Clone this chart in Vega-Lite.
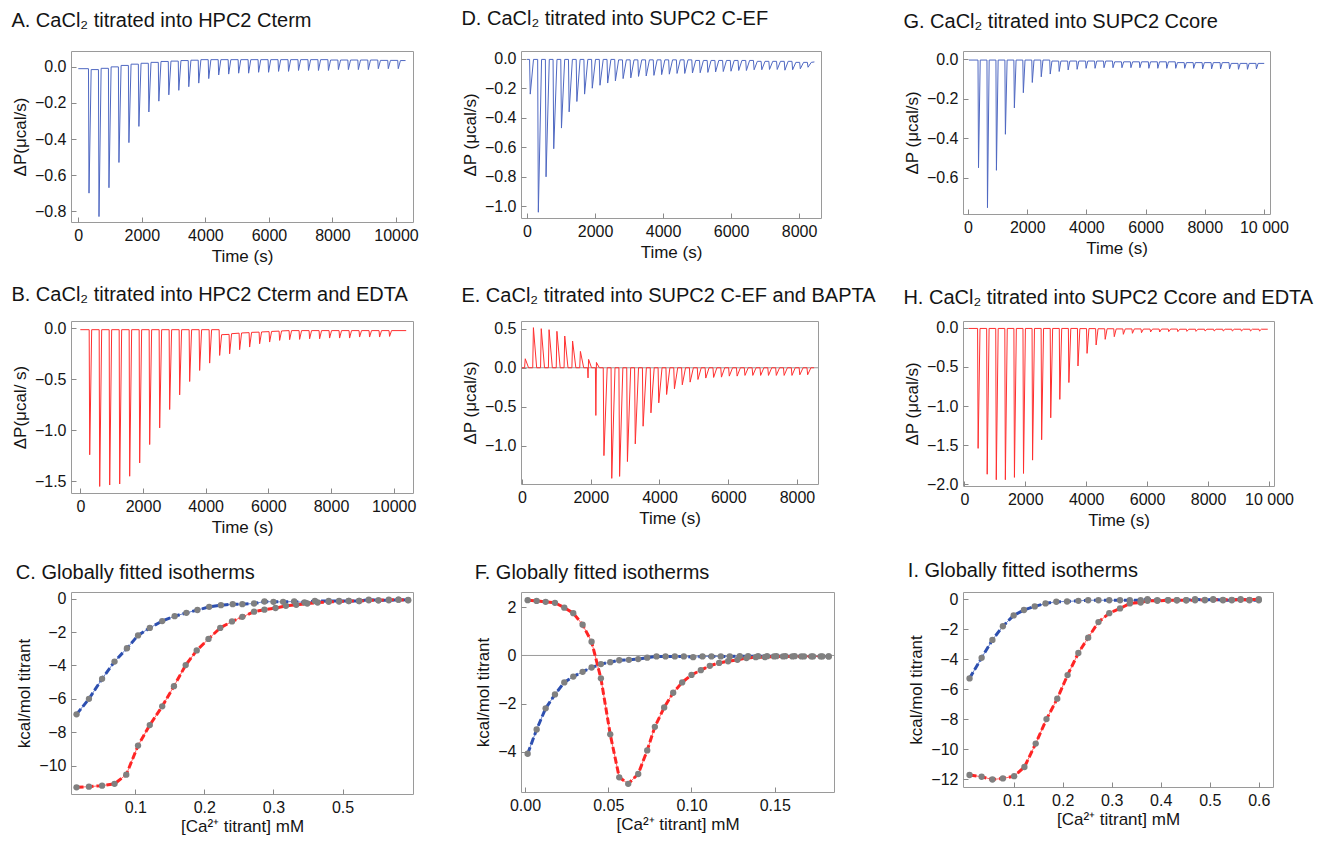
{
"$schema": "https://vega.github.io/schema/vega-lite/v6.json",
"background": "white",
"padding": {"left": 10, "top": 8, "right": 5, "bottom": 0},
"config": {
  "font": "Liberation Sans",
  "view": {"stroke": null},
  "axis": {"domain": false, "grid": false, "tickColor": "#8a8a8a", "tickSize": -5, "labelPadding": 10, "labelFontSize": 16, "titleFontSize": 17, "titleFontWeight": "normal", "labelColor": "#141414", "titleColor": "#141414", "labelFont": "Liberation Sans", "titleFont": "Liberation Sans", "titlePadding": 5, "labelFlush": false, "labelOverlap": false},
  "title": {"anchor": "start", "frame": "bounds", "fontSize": 20, "fontWeight": "normal", "font": "Liberation Sans", "color": "#141414"}
},
"columns": 5,
"spacing": {"row": 99, "column": 20},
"bounds": "flush",
"align": "each",
"concat": [
{
 "width": 342, "height": 171, "view": {"stroke": "#9a9a9a"},
 "title": {"text": "A. CaCl₂ titrated into HPC2 Cterm", "offset": 20},
 "data": {"values": [
  {"t":0,"p":-0.01},{"t":320,"p":-0.01},{"t":337,"p":-0.70},{"t":405,"p":-0.015},
  {"t":634,"p":-0.015},{"t":651,"p":-0.83},{"t":719,"p":-0.008},
  {"t":948,"p":-0.008},{"t":965,"p":-0.67},{"t":1033,"p":0.0},
  {"t":1262,"p":0.0},{"t":1279,"p":-0.53},{"t":1347,"p":0.008},
  {"t":1576,"p":0.008},{"t":1593,"p":-0.42},{"t":1661,"p":0.015},
  {"t":1890,"p":0.015},{"t":1907,"p":-0.33},{"t":1975,"p":0.02},
  {"t":2204,"p":0.02},{"t":2221,"p":-0.25},{"t":2289,"p":0.025},
  {"t":2518,"p":0.025},{"t":2535,"p":-0.19},{"t":2603,"p":0.03},
  {"t":2832,"p":0.03},{"t":2849,"p":-0.155},{"t":2917,"p":0.032},
  {"t":3146,"p":0.032},{"t":3163,"p":-0.13},{"t":3231,"p":0.035},
  {"t":3460,"p":0.035},{"t":3477,"p":-0.11},{"t":3545,"p":0.037},
  {"t":3774,"p":0.037},{"t":3791,"p":-0.09},{"t":3859,"p":0.04},
  {"t":4088,"p":0.04},{"t":4105,"p":-0.065},{"t":4173,"p":0.04},
  {"t":4402,"p":0.04},{"t":4419,"p":-0.045},{"t":4487,"p":0.04},
  {"t":4716,"p":0.04},{"t":4733,"p":-0.04},{"t":4801,"p":0.04},
  {"t":5030,"p":0.04},{"t":5047,"p":-0.035},{"t":5115,"p":0.04},
  {"t":5344,"p":0.04},{"t":5361,"p":-0.035},{"t":5429,"p":0.04},
  {"t":5658,"p":0.04},{"t":5675,"p":-0.03},{"t":5743,"p":0.04},
  {"t":5972,"p":0.04},{"t":5989,"p":-0.03},{"t":6057,"p":0.04},
  {"t":6286,"p":0.04},{"t":6303,"p":-0.025},{"t":6371,"p":0.04},
  {"t":6600,"p":0.04},{"t":6617,"p":-0.025},{"t":6685,"p":0.04},
  {"t":6914,"p":0.04},{"t":6931,"p":-0.02},{"t":6999,"p":0.04},
  {"t":7228,"p":0.04},{"t":7245,"p":-0.02},{"t":7313,"p":0.04},
  {"t":7542,"p":0.04},{"t":7559,"p":-0.02},{"t":7627,"p":0.04},
  {"t":7856,"p":0.04},{"t":7873,"p":-0.02},{"t":7941,"p":0.038},
  {"t":8170,"p":0.038},{"t":8187,"p":-0.015},{"t":8255,"p":0.038},
  {"t":8484,"p":0.038},{"t":8501,"p":-0.015},{"t":8569,"p":0.038},
  {"t":8798,"p":0.038},{"t":8815,"p":-0.015},{"t":8883,"p":0.038},
  {"t":9112,"p":0.038},{"t":9129,"p":-0.015},{"t":9197,"p":0.038},
  {"t":9426,"p":0.038},{"t":9443,"p":-0.01},{"t":9511,"p":0.036},
  {"t":9740,"p":0.036},{"t":9757,"p":-0.01},{"t":9825,"p":0.036},
  {"t":10054,"p":0.036},{"t":10071,"p":-0.01},{"t":10139,"p":0.035},
  {"t":10300,"p":0.035}
 ]},
 "mark": {"type": "line", "color": "#4f68c2", "strokeWidth": 1, "clip": true},
 "encoding": {
  "x": {"field": "t", "type": "quantitative", "scale": {"domain": [-230, 10535], "nice": false, "zero": false}, "axis": {"title": "Time (s)", "values": [0,2000,4000,6000,8000,10000], "format": "d"}},
  "y": {"field": "p", "type": "quantitative", "scale": {"domain": [-0.86, 0.088], "nice": false, "zero": false}, "axis": {"title": "ΔP(μcal/s)", "values": [-0.8,-0.6,-0.4,-0.2,0], "format": ".1f"}}
 }
},
{"width": 68, "height": 10, "data": {"values": []}, "mark": {"type": "point", "opacity": 0}},
{
 "width": 300, "height": 167, "view": {"stroke": "#9a9a9a"},
 "title": {"text": "D. CaCl₂ titrated into SUPC2 C-EF", "offset": 22},
 "data": {"values": [
  {"t":0,"p":-0.005},{"t":74,"p":-0.005},{"t":94,"p":-0.24},{"t":190,"p":-0.005},
  {"t":312,"p":-0.005},{"t":332,"p":-1.04},{"t":427,"p":-0.005},
  {"t":539,"p":-0.005},{"t":559,"p":-0.80},{"t":654,"p":-0.005},
  {"t":765,"p":-0.005},{"t":785,"p":-0.61},{"t":880,"p":-0.005},
  {"t":992,"p":-0.005},{"t":1012,"p":-0.47},{"t":1107,"p":-0.005},
  {"t":1218,"p":-0.005},{"t":1238,"p":-0.36},{"t":1333,"p":-0.005},
  {"t":1445,"p":-0.005},{"t":1465,"p":-0.29},{"t":1560,"p":-0.005},
  {"t":1672,"p":-0.005},{"t":1692,"p":-0.24},{"t":1787,"p":-0.005},
  {"t":1898,"p":-0.005},{"t":1918,"p":-0.20},{"t":2013,"p":-0.005},
  {"t":2125,"p":-0.005},{"t":2145,"p":-0.18},{"t":2240,"p":-0.005},
  {"t":2351,"p":-0.005},{"t":2371,"p":-0.165},{"t":2466,"p":-0.005},
  {"t":2578,"p":-0.005},{"t":2598,"p":-0.15},{"t":2693,"p":-0.008},
  {"t":2805,"p":-0.008},{"t":2825,"p":-0.135},{"t":2920,"p":-0.008},
  {"t":3031,"p":-0.008},{"t":3051,"p":-0.13},{"t":3146,"p":-0.008},
  {"t":3258,"p":-0.008},{"t":3278,"p":-0.12},{"t":3373,"p":-0.008},
  {"t":3484,"p":-0.008},{"t":3504,"p":-0.117},{"t":3599,"p":-0.008},
  {"t":3711,"p":-0.008},{"t":3731,"p":-0.113},{"t":3826,"p":-0.008},
  {"t":3938,"p":-0.008},{"t":3958,"p":-0.108},{"t":4053,"p":-0.008},
  {"t":4164,"p":-0.008},{"t":4184,"p":-0.105},{"t":4279,"p":-0.008},
  {"t":4391,"p":-0.008},{"t":4411,"p":-0.10},{"t":4506,"p":-0.008},
  {"t":4617,"p":-0.008},{"t":4637,"p":-0.10},{"t":4732,"p":-0.008},
  {"t":4844,"p":-0.008},{"t":4864,"p":-0.097},{"t":4959,"p":-0.012},
  {"t":5071,"p":-0.012},{"t":5091,"p":-0.095},{"t":5186,"p":-0.012},
  {"t":5297,"p":-0.012},{"t":5317,"p":-0.093},{"t":5412,"p":-0.012},
  {"t":5524,"p":-0.012},{"t":5544,"p":-0.09},{"t":5639,"p":-0.012},
  {"t":5750,"p":-0.012},{"t":5770,"p":-0.087},{"t":5865,"p":-0.012},
  {"t":5977,"p":-0.012},{"t":5997,"p":-0.085},{"t":6092,"p":-0.012},
  {"t":6204,"p":-0.012},{"t":6224,"p":-0.08},{"t":6319,"p":-0.012},
  {"t":6430,"p":-0.012},{"t":6450,"p":-0.08},{"t":6545,"p":-0.012},
  {"t":6657,"p":-0.012},{"t":6677,"p":-0.075},{"t":6772,"p":-0.018},
  {"t":6883,"p":-0.018},{"t":6903,"p":-0.075},{"t":6998,"p":-0.018},
  {"t":7110,"p":-0.018},{"t":7130,"p":-0.073},{"t":7225,"p":-0.018},
  {"t":7337,"p":-0.018},{"t":7357,"p":-0.073},{"t":7452,"p":-0.018},
  {"t":7563,"p":-0.018},{"t":7583,"p":-0.078},{"t":7678,"p":-0.018},
  {"t":7790,"p":-0.018},{"t":7810,"p":-0.075},{"t":7905,"p":-0.025},
  {"t":8016,"p":-0.025},{"t":8036,"p":-0.068},{"t":8131,"p":-0.025},
  {"t":8243,"p":-0.025},{"t":8263,"p":-0.058},{"t":8358,"p":-0.025},
  {"t":8450,"p":-0.022}
 ]},
 "mark": {"type": "line", "color": "#4f68c2", "strokeWidth": 1, "clip": true},
 "encoding": {
  "x": {"field": "t", "type": "quantitative", "scale": {"domain": [-178, 8644], "nice": false, "zero": false}, "axis": {"title": "Time (s)", "values": [0,2000,4000,6000,8000], "format": "d"}},
  "y": {"field": "p", "type": "quantitative", "scale": {"domain": [-1.079, 0.052], "nice": false, "zero": false}, "axis": {"title": "ΔP (μcal/s)", "values": [-1.0,-0.8,-0.6,-0.4,-0.2,0], "format": ".1f"}}
 }
},
{"width": 89, "height": 10, "data": {"values": []}, "mark": {"type": "point", "opacity": 0}},
{
 "width": 307, "height": 163, "view": {"stroke": "#9a9a9a"},
 "title": {"text": "G. CaCl₂ titrated into SUPC2 Ccore", "offset": 19},
 "data": {"values": [
  {"t":30,"p":-0.003},
  {"t":336,"p":-0.003},{"t":353,"p":-0.55},{"t":411,"p":-0.003},
  {"t":639,"p":-0.003},{"t":656,"p":-0.753},{"t":714,"p":-0.003},
  {"t":942,"p":-0.003},{"t":959,"p":-0.563},{"t":1017,"p":-0.003},
  {"t":1245,"p":-0.003},{"t":1262,"p":-0.38},{"t":1320,"p":-0.003},
  {"t":1548,"p":-0.003},{"t":1565,"p":-0.246},{"t":1623,"p":-0.003},
  {"t":1851,"p":-0.003},{"t":1868,"p":-0.169},{"t":1926,"p":-0.003},
  {"t":2154,"p":-0.003},{"t":2171,"p":-0.117},{"t":2229,"p":-0.003},
  {"t":2457,"p":-0.003},{"t":2474,"p":-0.088},{"t":2532,"p":-0.003},
  {"t":2760,"p":-0.003},{"t":2777,"p":-0.074},{"t":2835,"p":-0.008},
  {"t":3063,"p":-0.008},{"t":3080,"p":-0.061},{"t":3138,"p":-0.008},
  {"t":3366,"p":-0.008},{"t":3383,"p":-0.053},{"t":3441,"p":-0.008},
  {"t":3669,"p":-0.008},{"t":3686,"p":-0.05},{"t":3744,"p":-0.008},
  {"t":3972,"p":-0.008},{"t":3989,"p":-0.045},{"t":4047,"p":-0.008},
  {"t":4275,"p":-0.008},{"t":4292,"p":-0.045},{"t":4350,"p":-0.008},
  {"t":4578,"p":-0.008},{"t":4595,"p":-0.042},{"t":4653,"p":-0.008},
  {"t":4881,"p":-0.008},{"t":4898,"p":-0.042},{"t":4956,"p":-0.012},
  {"t":5184,"p":-0.012},{"t":5201,"p":-0.042},{"t":5259,"p":-0.012},
  {"t":5487,"p":-0.012},{"t":5504,"p":-0.042},{"t":5562,"p":-0.012},
  {"t":5790,"p":-0.012},{"t":5807,"p":-0.042},{"t":5865,"p":-0.012},
  {"t":6093,"p":-0.012},{"t":6110,"p":-0.045},{"t":6168,"p":-0.012},
  {"t":6396,"p":-0.012},{"t":6413,"p":-0.045},{"t":6471,"p":-0.012},
  {"t":6699,"p":-0.012},{"t":6716,"p":-0.045},{"t":6774,"p":-0.012},
  {"t":7002,"p":-0.012},{"t":7019,"p":-0.045},{"t":7077,"p":-0.016},
  {"t":7305,"p":-0.016},{"t":7322,"p":-0.045},{"t":7380,"p":-0.016},
  {"t":7608,"p":-0.016},{"t":7625,"p":-0.045},{"t":7683,"p":-0.016},
  {"t":7911,"p":-0.016},{"t":7928,"p":-0.048},{"t":7986,"p":-0.016},
  {"t":8214,"p":-0.016},{"t":8231,"p":-0.048},{"t":8289,"p":-0.016},
  {"t":8517,"p":-0.016},{"t":8534,"p":-0.048},{"t":8592,"p":-0.016},
  {"t":8820,"p":-0.016},{"t":8837,"p":-0.048},{"t":8895,"p":-0.02},
  {"t":9123,"p":-0.02},{"t":9140,"p":-0.05},{"t":9198,"p":-0.02},
  {"t":9426,"p":-0.02},{"t":9443,"p":-0.05},{"t":9501,"p":-0.02},
  {"t":9729,"p":-0.02},{"t":9746,"p":-0.048},{"t":9804,"p":-0.02},
  {"t":10010,"p":-0.02}
 ]},
 "mark": {"type": "line", "color": "#4f68c2", "strokeWidth": 1, "clip": true},
 "encoding": {
  "x": {"field": "t", "type": "quantitative", "scale": {"domain": [-171, 10205], "nice": false, "zero": false}, "axis": {"title": "Time (s)", "values": [0,2000,4000,6000,8000,10000], "labelExpr": "datum.value == 10000 ? '10 000' : format(datum.value, 'd')"}},
  "y": {"field": "p", "type": "quantitative", "scale": {"domain": [-0.785, 0.043], "nice": false, "zero": false}, "axis": {"title": "ΔP (μcal/s)", "values": [-0.6,-0.4,-0.2,0], "format": ".1f"}}
 }
},
{
 "width": 342, "height": 172, "view": {"stroke": "#9a9a9a"},
 "title": {"text": "B. CaCl₂ titrated into HPC2 Cterm and EDTA", "offset": 15},
 "data": {"values": [
  {"t":0,"p":-0.016},
  {"t":282,"p":-0.016},{"t":299,"p":-1.24},{"t":362,"p":-0.016},
  {"t":601,"p":-0.016},{"t":618,"p":-1.55},{"t":681,"p":-0.016},
  {"t":920,"p":-0.016},{"t":937,"p":-1.536},{"t":1000,"p":-0.016},
  {"t":1239,"p":-0.016},{"t":1256,"p":-1.526},{"t":1319,"p":-0.016},
  {"t":1558,"p":-0.016},{"t":1575,"p":-1.45},{"t":1638,"p":-0.016},
  {"t":1877,"p":-0.016},{"t":1894,"p":-1.32},{"t":1957,"p":-0.016},
  {"t":2196,"p":-0.016},{"t":2213,"p":-1.14},{"t":2276,"p":-0.016},
  {"t":2515,"p":-0.016},{"t":2532,"p":-0.977},{"t":2595,"p":-0.016},
  {"t":2834,"p":-0.016},{"t":2851,"p":-0.797},{"t":2914,"p":-0.016},
  {"t":3153,"p":-0.016},{"t":3170,"p":-0.654},{"t":3233,"p":-0.016},
  {"t":3472,"p":-0.016},{"t":3489,"p":-0.523},{"t":3552,"p":-0.016},
  {"t":3791,"p":-0.016},{"t":3808,"p":-0.415},{"t":3871,"p":-0.016},
  {"t":4110,"p":-0.016},{"t":4127,"p":-0.343},{"t":4190,"p":-0.016},
  {"t":4429,"p":-0.016},{"t":4446,"p":-0.268},{"t":4509,"p":-0.065},
  {"t":4748,"p":-0.062},{"t":4765,"p":-0.252},{"t":4828,"p":-0.055},
  {"t":5067,"p":-0.05},{"t":5084,"p":-0.212},{"t":5147,"p":-0.048},
  {"t":5386,"p":-0.045},{"t":5403,"p":-0.186},{"t":5466,"p":-0.042},
  {"t":5705,"p":-0.04},{"t":5722,"p":-0.154},{"t":5785,"p":-0.038},
  {"t":6024,"p":-0.035},{"t":6041,"p":-0.137},{"t":6104,"p":-0.033},
  {"t":6343,"p":-0.03},{"t":6360,"p":-0.121},{"t":6423,"p":-0.028},
  {"t":6662,"p":-0.025},{"t":6679,"p":-0.114},{"t":6742,"p":-0.025},
  {"t":6981,"p":-0.025},{"t":6998,"p":-0.111},{"t":7061,"p":-0.025},
  {"t":7300,"p":-0.025},{"t":7317,"p":-0.105},{"t":7380,"p":-0.025},
  {"t":7619,"p":-0.025},{"t":7636,"p":-0.105},{"t":7699,"p":-0.025},
  {"t":7938,"p":-0.025},{"t":7955,"p":-0.098},{"t":8018,"p":-0.025},
  {"t":8257,"p":-0.025},{"t":8274,"p":-0.098},{"t":8337,"p":-0.025},
  {"t":8576,"p":-0.025},{"t":8593,"p":-0.098},{"t":8656,"p":-0.025},
  {"t":8895,"p":-0.025},{"t":8912,"p":-0.088},{"t":8975,"p":-0.025},
  {"t":9214,"p":-0.025},{"t":9231,"p":-0.088},{"t":9294,"p":-0.025},
  {"t":9533,"p":-0.025},{"t":9550,"p":-0.088},{"t":9613,"p":-0.025},
  {"t":9852,"p":-0.025},{"t":9869,"p":-0.082},{"t":9932,"p":-0.025},
  {"t":10400,"p":-0.025}
 ]},
 "mark": {"type": "line", "color": "#ff3030", "strokeWidth": 1, "clip": true},
 "encoding": {
  "x": {"field": "t", "type": "quantitative", "scale": {"domain": [-298, 10617], "nice": false, "zero": false}, "axis": {"title": "Time (s)", "values": [0,2000,4000,6000,8000,10000], "format": "d"}},
  "y": {"field": "p", "type": "quantitative", "scale": {"domain": [-1.614, 0.069], "nice": false, "zero": false}, "axis": {"title": "ΔP(μcal/ s)", "values": [-1.5,-1.0,-0.5,0], "format": ".1f"}}
 }
},
{"width": 68, "height": 10, "data": {"values": []}, "mark": {"type": "point", "opacity": 0}},
{
 "width": 297, "height": 163, "view": {"stroke": "#9a9a9a"},
 "title": {"text": "E. CaCl₂ titrated into SUPC2 C-EF and BAPTA", "offset": 15},
 "layer": [
  {"data": {"values": [{"p": 0}]}, "mark": {"type": "rule", "color": "#9a9a9a", "strokeWidth": 1},
   "encoding": {"y": {"field": "p", "type": "quantitative"}}},
  {"data": {"values": [
  {"t":0,"p":0},{"t":74,"p":0},{"t":94,"p":0.115},{"t":190,"p":0},
  {"t":311,"p":0},{"t":331,"p":0.513},{"t":426,"p":0},
  {"t":539,"p":0},{"t":559,"p":0.50},{"t":654,"p":0},
  {"t":767,"p":0},{"t":787,"p":0.487},{"t":882,"p":0},
  {"t":995,"p":0},{"t":1015,"p":0.466},{"t":1110,"p":0},
  {"t":1223,"p":0},{"t":1243,"p":0.406},{"t":1338,"p":0},
  {"t":1451,"p":0},{"t":1471,"p":0.342},{"t":1566,"p":0},
  {"t":1679,"p":0},{"t":1699,"p":0.209},{"t":1794,"p":0},
  {"t":1907,"p":0},{"t":1920,"p":-0.13},{"t":1937,"p":0.107},{"t":2022,"p":0},
  {"t":2135,"p":0},{"t":2148,"p":-0.61},{"t":2165,"p":0.068},{"t":2250,"p":0},
  {"t":2363,"p":0},{"t":2383,"p":-1.124},{"t":2478,"p":0},
  {"t":2591,"p":0},{"t":2611,"p":-1.415},{"t":2706,"p":0},
  {"t":2819,"p":0},{"t":2839,"p":-1.39},{"t":2934,"p":0},
  {"t":3047,"p":0},{"t":3067,"p":-1.20},{"t":3162,"p":0},
  {"t":3275,"p":0},{"t":3295,"p":-0.974},{"t":3390,"p":0},
  {"t":3503,"p":0},{"t":3523,"p":-0.748},{"t":3618,"p":0},
  {"t":3731,"p":0},{"t":3751,"p":-0.577},{"t":3846,"p":0},
  {"t":3959,"p":0},{"t":3979,"p":-0.449},{"t":4074,"p":0},
  {"t":4187,"p":0},{"t":4207,"p":-0.342},{"t":4302,"p":0},
  {"t":4415,"p":0},{"t":4435,"p":-0.269},{"t":4530,"p":0},
  {"t":4643,"p":0},{"t":4663,"p":-0.218},{"t":4758,"p":0},
  {"t":4871,"p":0},{"t":4891,"p":-0.184},{"t":4986,"p":0},
  {"t":5099,"p":0},{"t":5119,"p":-0.15},{"t":5214,"p":0},
  {"t":5327,"p":0},{"t":5347,"p":-0.132},{"t":5442,"p":0},
  {"t":5555,"p":0},{"t":5575,"p":-0.124},{"t":5670,"p":0},
  {"t":5783,"p":0},{"t":5803,"p":-0.12},{"t":5898,"p":0},
  {"t":6011,"p":0},{"t":6031,"p":-0.107},{"t":6126,"p":0},
  {"t":6239,"p":0},{"t":6259,"p":-0.107},{"t":6354,"p":0},
  {"t":6467,"p":0},{"t":6487,"p":-0.098},{"t":6582,"p":0},
  {"t":6695,"p":0},{"t":6715,"p":-0.098},{"t":6810,"p":0},
  {"t":6923,"p":0},{"t":6943,"p":-0.098},{"t":7038,"p":0},
  {"t":7151,"p":0},{"t":7171,"p":-0.098},{"t":7266,"p":0},
  {"t":7379,"p":0},{"t":7399,"p":-0.098},{"t":7494,"p":0},
  {"t":7607,"p":0},{"t":7627,"p":-0.098},{"t":7722,"p":0},
  {"t":7835,"p":0},{"t":7855,"p":-0.098},{"t":7950,"p":0},
  {"t":8063,"p":0},{"t":8083,"p":-0.09},{"t":8178,"p":0},
  {"t":8291,"p":0},{"t":8311,"p":-0.09},{"t":8406,"p":0},
  {"t":8500,"p":0}
  ]},
  "mark": {"type": "line", "color": "#ff3030", "strokeWidth": 1, "clip": true},
  "encoding": {
   "x": {"field": "t", "type": "quantitative", "scale": {"domain": [-30, 8612], "nice": false, "zero": false}, "axis": {"title": "Time (s)", "values": [0,2000,4000,6000,8000], "format": "d"}},
   "y": {"field": "p", "type": "quantitative", "scale": {"domain": [-1.487, 0.598], "nice": false, "zero": false}, "axis": {"title": "ΔP (μcal/s)", "values": [-1.5,-1.0,-0.5,0,0.5], "format": ".1f"}}
  }}
 ]
},
{"width": 89, "height": 10, "data": {"values": []}, "mark": {"type": "point", "opacity": 0}},
{
 "width": 311, "height": 165, "view": {"stroke": "#9a9a9a"},
 "title": {"text": "H. CaCl₂ titrated into SUPC2 Ccore and EDTA", "offset": 12},
 "data": {"values": [
  {"t":140,"p":-0.01},
  {"t":435,"p":-0.01},{"t":452,"p":-1.54},{"t":515,"p":-0.01},
  {"t":733,"p":-0.01},{"t":750,"p":-1.87},{"t":813,"p":-0.01},
  {"t":1031,"p":-0.01},{"t":1048,"p":-1.94},{"t":1111,"p":-0.01},
  {"t":1329,"p":-0.01},{"t":1346,"p":-1.94},{"t":1409,"p":-0.01},
  {"t":1627,"p":-0.01},{"t":1644,"p":-1.91},{"t":1707,"p":-0.01},
  {"t":1925,"p":-0.01},{"t":1942,"p":-1.86},{"t":2005,"p":-0.01},
  {"t":2223,"p":-0.01},{"t":2240,"p":-1.69},{"t":2303,"p":-0.01},
  {"t":2521,"p":-0.01},{"t":2538,"p":-1.43},{"t":2601,"p":-0.01},
  {"t":2819,"p":-0.01},{"t":2836,"p":-1.15},{"t":2899,"p":-0.01},
  {"t":3117,"p":-0.01},{"t":3134,"p":-0.915},{"t":3197,"p":-0.01},
  {"t":3415,"p":-0.01},{"t":3432,"p":-0.70},{"t":3495,"p":-0.01},
  {"t":3713,"p":-0.01},{"t":3730,"p":-0.489},{"t":3793,"p":-0.012},
  {"t":4011,"p":-0.012},{"t":4028,"p":-0.328},{"t":4091,"p":-0.012},
  {"t":4309,"p":-0.012},{"t":4326,"p":-0.221},{"t":4389,"p":-0.014},
  {"t":4607,"p":-0.014},{"t":4624,"p":-0.149},{"t":4687,"p":-0.014},
  {"t":4905,"p":-0.014},{"t":4922,"p":-0.115},{"t":4985,"p":-0.016},
  {"t":5203,"p":-0.016},{"t":5220,"p":-0.085},{"t":5283,"p":-0.016},
  {"t":5501,"p":-0.016},{"t":5518,"p":-0.072},{"t":5581,"p":-0.016},
  {"t":5799,"p":-0.016},{"t":5816,"p":-0.064},{"t":5879,"p":-0.018},
  {"t":6097,"p":-0.018},{"t":6114,"p":-0.055},{"t":6177,"p":-0.018},
  {"t":6395,"p":-0.018},{"t":6412,"p":-0.055},{"t":6475,"p":-0.018},
  {"t":6693,"p":-0.018},{"t":6710,"p":-0.051},{"t":6773,"p":-0.018},
  {"t":6991,"p":-0.018},{"t":7008,"p":-0.051},{"t":7071,"p":-0.02},
  {"t":7289,"p":-0.02},{"t":7306,"p":-0.047},{"t":7369,"p":-0.02},
  {"t":7587,"p":-0.02},{"t":7604,"p":-0.047},{"t":7667,"p":-0.02},
  {"t":7885,"p":-0.02},{"t":7902,"p":-0.043},{"t":7965,"p":-0.02},
  {"t":8183,"p":-0.02},{"t":8200,"p":-0.043},{"t":8263,"p":-0.02},
  {"t":8481,"p":-0.02},{"t":8498,"p":-0.043},{"t":8561,"p":-0.02},
  {"t":8779,"p":-0.02},{"t":8796,"p":-0.043},{"t":8859,"p":-0.02},
  {"t":9077,"p":-0.02},{"t":9094,"p":-0.043},{"t":9157,"p":-0.02},
  {"t":9375,"p":-0.02},{"t":9392,"p":-0.043},{"t":9455,"p":-0.02},
  {"t":9673,"p":-0.02},{"t":9690,"p":-0.043},{"t":9753,"p":-0.02},
  {"t":9960,"p":-0.02}
 ]},
 "mark": {"type": "line", "color": "#ff3030", "strokeWidth": 1, "clip": true},
 "encoding": {
  "x": {"field": "t", "type": "quantitative", "scale": {"domain": [-44, 10165], "nice": false, "zero": false}, "axis": {"title": "Time (s)", "values": [0,2000,4000,6000,8000,10000], "labelExpr": "datum.value == 10000 ? '10 000' : format(datum.value, 'd')"}},
  "y": {"field": "p", "type": "quantitative", "scale": {"domain": [-2.02, 0.085], "nice": false, "zero": false}, "axis": {"title": "ΔP (μcal/s)", "values": [-2.0,-1.5,-1.0,-0.5,0], "format": ".1f"}}
 }
},
{
 "width": 342, "height": 202, "view": {"stroke": "#9a9a9a"},
 "title": {"text": "C. Globally fitted isotherms", "offset": 8},
 "data": {"values": [
  {"x":0.015,"y":-6.93,"s":"HPC2 Cterm"},{"x":0.033,"y":-6.0,"s":"HPC2 Cterm"},{"x":0.052,"y":-4.8,"s":"HPC2 Cterm"},{"x":0.070,"y":-3.77,"s":"HPC2 Cterm"},{"x":0.088,"y":-2.97,"s":"HPC2 Cterm"},{"x":0.104,"y":-2.2,"s":"HPC2 Cterm"},{"x":0.121,"y":-1.75,"s":"HPC2 Cterm"},{"x":0.139,"y":-1.34,"s":"HPC2 Cterm"},{"x":0.157,"y":-1.05,"s":"HPC2 Cterm"},{"x":0.174,"y":-0.85,"s":"HPC2 Cterm"},{"x":0.19,"y":-0.68,"s":"HPC2 Cterm"},{"x":0.207,"y":-0.49,"s":"HPC2 Cterm"},{"x":0.224,"y":-0.39,"s":"HPC2 Cterm"},{"x":0.241,"y":-0.33,"s":"HPC2 Cterm"},{"x":0.255,"y":-0.33,"s":"HPC2 Cterm"},{"x":0.272,"y":-0.29,"s":"HPC2 Cterm"},{"x":0.287,"y":-0.17,"s":"HPC2 Cterm"},{"x":0.30,"y":-0.19,"s":"HPC2 Cterm"},{"x":0.314,"y":-0.19,"s":"HPC2 Cterm"},{"x":0.33,"y":-0.17,"s":"HPC2 Cterm"},{"x":0.345,"y":-0.23,"s":"HPC2 Cterm"},{"x":0.36,"y":-0.14,"s":"HPC2 Cterm"},{"x":0.38,"y":-0.14,"s":"HPC2 Cterm"},{"x":0.395,"y":-0.14,"s":"HPC2 Cterm"},{"x":0.409,"y":-0.14,"s":"HPC2 Cterm"},{"x":0.424,"y":-0.14,"s":"HPC2 Cterm"},{"x":0.438,"y":-0.06,"s":"HPC2 Cterm"},{"x":0.452,"y":-0.1,"s":"HPC2 Cterm"},{"x":0.467,"y":-0.1,"s":"HPC2 Cterm"},{"x":0.481,"y":-0.06,"s":"HPC2 Cterm"},{"x":0.495,"y":-0.08,"s":"HPC2 Cterm"},
  {"x":0.015,"y":-11.3,"s":"HPC2 Cterm + EDTA"},{"x":0.033,"y":-11.26,"s":"HPC2 Cterm + EDTA"},{"x":0.052,"y":-11.2,"s":"HPC2 Cterm + EDTA"},{"x":0.070,"y":-11.09,"s":"HPC2 Cterm + EDTA"},{"x":0.087,"y":-10.54,"s":"HPC2 Cterm + EDTA"},{"x":0.104,"y":-8.8,"s":"HPC2 Cterm + EDTA"},{"x":0.121,"y":-7.57,"s":"HPC2 Cterm + EDTA"},{"x":0.139,"y":-6.45,"s":"HPC2 Cterm + EDTA"},{"x":0.156,"y":-5.24,"s":"HPC2 Cterm + EDTA"},{"x":0.173,"y":-3.98,"s":"HPC2 Cterm + EDTA"},{"x":0.189,"y":-3.1,"s":"HPC2 Cterm + EDTA"},{"x":0.206,"y":-2.41,"s":"HPC2 Cterm + EDTA"},{"x":0.223,"y":-1.75,"s":"HPC2 Cterm + EDTA"},{"x":0.24,"y":-1.36,"s":"HPC2 Cterm + EDTA"},{"x":0.255,"y":-1.09,"s":"HPC2 Cterm + EDTA"},{"x":0.272,"y":-0.78,"s":"HPC2 Cterm + EDTA"},{"x":0.287,"y":-0.66,"s":"HPC2 Cterm + EDTA"},{"x":0.303,"y":-0.56,"s":"HPC2 Cterm + EDTA"},{"x":0.318,"y":-0.43,"s":"HPC2 Cterm + EDTA"},{"x":0.333,"y":-0.37,"s":"HPC2 Cterm + EDTA"},{"x":0.349,"y":-0.29,"s":"HPC2 Cterm + EDTA"},{"x":0.364,"y":-0.23,"s":"HPC2 Cterm + EDTA"},{"x":0.38,"y":-0.19,"s":"HPC2 Cterm + EDTA"},{"x":0.395,"y":-0.17,"s":"HPC2 Cterm + EDTA"},{"x":0.409,"y":-0.14,"s":"HPC2 Cterm + EDTA"},{"x":0.424,"y":-0.14,"s":"HPC2 Cterm + EDTA"},{"x":0.438,"y":-0.1,"s":"HPC2 Cterm + EDTA"},{"x":0.452,"y":-0.1,"s":"HPC2 Cterm + EDTA"},{"x":0.467,"y":-0.06,"s":"HPC2 Cterm + EDTA"},{"x":0.481,"y":-0.06,"s":"HPC2 Cterm + EDTA"},{"x":0.495,"y":-0.1,"s":"HPC2 Cterm + EDTA"}
 ]},
 "encoding": {
  "x": {"field": "x", "type": "quantitative", "scale": {"domain": [0.007, 0.502], "nice": false, "zero": false}, "axis": {"title": "[Ca²⁺ titrant] mM", "titlePadding": 3, "values": [0.1,0.2,0.3,0.4], "labelExpr": "datum.value > 0.35 ? '0.5' : format(datum.value, '.1f')"}},
  "y": {"field": "y", "type": "quantitative", "scale": {"domain": [-11.7, 0.4], "nice": false, "zero": false}, "axis": {"title": "kcal/mol titrant", "values": [-10,-8,-6,-4,-2,0], "format": "d"}}
 },
 "layer": [
  {"mark": {"type": "line", "strokeWidth": 1, "opacity": 0.7, "clip": true}, "encoding": {"color": {"field": "s", "type": "nominal", "scale": {"domain": ["HPC2 Cterm", "HPC2 Cterm + EDTA"], "range": ["#2d4fb0", "#ff2424"]}, "legend": null}}},
  {"mark": {"type": "line", "strokeWidth": 3, "strokeDash": [7, 3], "clip": true}, "encoding": {"color": {"field": "s", "type": "nominal", "scale": {"domain": ["HPC2 Cterm", "HPC2 Cterm + EDTA"], "range": ["#2d4fb0", "#ff2424"]}, "legend": null}}},
  {"mark": {"type": "point", "filled": true, "size": 40, "color": "#808080", "opacity": 1, "clip": true}}
 ]
},
{"width": 68, "height": 10, "data": {"values": []}, "mark": {"type": "point", "opacity": 0}},
{
 "width": 313, "height": 200, "view": {"stroke": "#9a9a9a"},
 "title": {"text": "F. Globally fitted isotherms", "offset": 9},
 "encoding": {
  "x": {"field": "x", "type": "quantitative", "scale": {"domain": [-0.0024, 0.1856], "nice": false, "zero": false}, "axis": {"title": "[Ca²⁺ titrant] mM", "titlePadding": 3, "values": [0,0.05,0.1,0.15], "format": ".2f"}},
  "y": {"field": "y", "type": "quantitative", "scale": {"domain": [-5.68, 2.64], "nice": false, "zero": false}, "axis": {"title": "kcal/mol titrant", "values": [-4,-2,0,2], "format": "d"}}
 },
 "layer": [
  {"data": {"values": [{"y": 0}]}, "mark": {"type": "rule", "color": "#9a9a9a", "strokeWidth": 1}, "encoding": {"x": null}},
  {"data": {"name": "f"}, "mark": {"type": "line", "strokeWidth": 1, "opacity": 0.7, "clip": true}, "encoding": {"color": {"field": "s", "type": "nominal", "scale": {"domain": ["SUPC2 C-EF", "SUPC2 C-EF + BAPTA"], "range": ["#2d4fb0", "#ff2424"]}, "legend": null}}},
  {"data": {"name": "f"}, "mark": {"type": "line", "strokeWidth": 3, "strokeDash": [7, 3], "clip": true}, "encoding": {"color": {"field": "s", "type": "nominal", "scale": {"domain": ["SUPC2 C-EF", "SUPC2 C-EF + BAPTA"], "range": ["#2d4fb0", "#ff2424"]}, "legend": null}}},
  {"data": {"name": "f"}, "mark": {"type": "point", "filled": true, "size": 40, "color": "#808080", "opacity": 1, "clip": true}}
 ]
},
{"width": 89, "height": 10, "data": {"values": []}, "mark": {"type": "point", "opacity": 0}},
{
 "width": 310, "height": 195, "view": {"stroke": "#9a9a9a"},
 "title": {"text": "I. Globally fitted isotherms", "offset": 10},
 "data": {"name": "i"},
 "encoding": {
  "x": {"field": "x", "type": "quantitative", "scale": {"domain": [-0.0033, 0.629], "nice": false, "zero": false}, "axis": {"title": "[Ca²⁺ titrant] mM", "titlePadding": 3, "values": [0.1,0.2,0.3,0.4,0.5,0.6], "format": ".1f"}},
  "y": {"field": "y", "type": "quantitative", "scale": {"domain": [-12.5, 0.48], "nice": false, "zero": false}, "axis": {"title": "kcal/mol titrant", "values": [-12,-10,-8,-6,-4,-2,0], "format": "d"}}
 },
 "layer": [
  {"mark": {"type": "line", "strokeWidth": 1, "opacity": 0.7, "clip": true}, "encoding": {"color": {"field": "s", "type": "nominal", "scale": {"domain": ["SUPC2 Ccore", "SUPC2 Ccore + EDTA"], "range": ["#2d4fb0", "#ff2424"]}, "legend": null}}},
  {"mark": {"type": "line", "strokeWidth": 3, "strokeDash": [7, 3], "clip": true}, "encoding": {"color": {"field": "s", "type": "nominal", "scale": {"domain": ["SUPC2 Ccore", "SUPC2 Ccore + EDTA"], "range": ["#2d4fb0", "#ff2424"]}, "legend": null}}},
  {"mark": {"type": "point", "filled": true, "size": 40, "color": "#808080", "opacity": 1, "clip": true}}
 ]
}
],
"datasets": {
 "f": [
  {"x":0.0016,"y":-4.09,"s":"SUPC2 C-EF"},{"x":0.007,"y":-3.08,"s":"SUPC2 C-EF"},{"x":0.0124,"y":-2.2,"s":"SUPC2 C-EF"},{"x":0.018,"y":-1.62,"s":"SUPC2 C-EF"},{"x":0.0236,"y":-1.12,"s":"SUPC2 C-EF"},{"x":0.029,"y":-0.88,"s":"SUPC2 C-EF"},{"x":0.0346,"y":-0.68,"s":"SUPC2 C-EF"},{"x":0.04,"y":-0.5,"s":"SUPC2 C-EF"},{"x":0.0456,"y":-0.36,"s":"SUPC2 C-EF"},{"x":0.0512,"y":-0.28,"s":"SUPC2 C-EF"},{"x":0.0566,"y":-0.2,"s":"SUPC2 C-EF"},{"x":0.0624,"y":-0.18,"s":"SUPC2 C-EF"},{"x":0.068,"y":-0.15,"s":"SUPC2 C-EF"},{"x":0.0734,"y":-0.09,"s":"SUPC2 C-EF"},{"x":0.079,"y":-0.04,"s":"SUPC2 C-EF"},{"x":0.0844,"y":-0.04,"s":"SUPC2 C-EF"},{"x":0.09,"y":-0.04,"s":"SUPC2 C-EF"},{"x":0.0954,"y":-0.04,"s":"SUPC2 C-EF"},{"x":0.101,"y":-0.07,"s":"SUPC2 C-EF"},{"x":0.1066,"y":-0.04,"s":"SUPC2 C-EF"},{"x":0.112,"y":-0.04,"s":"SUPC2 C-EF"},{"x":0.1176,"y":-0.04,"s":"SUPC2 C-EF"},{"x":0.123,"y":-0.04,"s":"SUPC2 C-EF"},{"x":0.129,"y":-0.03,"s":"SUPC2 C-EF"},{"x":0.134,"y":-0.03,"s":"SUPC2 C-EF"},{"x":0.14,"y":-0.03,"s":"SUPC2 C-EF"},{"x":0.1454,"y":-0.03,"s":"SUPC2 C-EF"},{"x":0.151,"y":-0.03,"s":"SUPC2 C-EF"},{"x":0.1564,"y":-0.03,"s":"SUPC2 C-EF"},{"x":0.162,"y":-0.03,"s":"SUPC2 C-EF"},{"x":0.1676,"y":-0.04,"s":"SUPC2 C-EF"},{"x":0.173,"y":-0.04,"s":"SUPC2 C-EF"},{"x":0.1786,"y":-0.04,"s":"SUPC2 C-EF"},{"x":0.1824,"y":-0.04,"s":"SUPC2 C-EF"},
  {"x":0.0016,"y":2.30,"s":"SUPC2 C-EF + BAPTA"},{"x":0.007,"y":2.27,"s":"SUPC2 C-EF + BAPTA"},{"x":0.0124,"y":2.23,"s":"SUPC2 C-EF + BAPTA"},{"x":0.018,"y":2.19,"s":"SUPC2 C-EF + BAPTA"},{"x":0.0236,"y":1.99,"s":"SUPC2 C-EF + BAPTA"},{"x":0.029,"y":1.76,"s":"SUPC2 C-EF + BAPTA"},{"x":0.0346,"y":1.28,"s":"SUPC2 C-EF + BAPTA"},{"x":0.04,"y":0.57,"s":"SUPC2 C-EF + BAPTA"},{"x":0.0456,"y":-0.95,"s":"SUPC2 C-EF + BAPTA"},{"x":0.0512,"y":-3.28,"s":"SUPC2 C-EF + BAPTA"},{"x":0.0566,"y":-5.07,"s":"SUPC2 C-EF + BAPTA"},{"x":0.062,"y":-5.34,"s":"SUPC2 C-EF + BAPTA"},{"x":0.068,"y":-4.93,"s":"SUPC2 C-EF + BAPTA"},{"x":0.0734,"y":-3.95,"s":"SUPC2 C-EF + BAPTA"},{"x":0.078,"y":-2.97,"s":"SUPC2 C-EF + BAPTA"},{"x":0.0836,"y":-2.16,"s":"SUPC2 C-EF + BAPTA"},{"x":0.089,"y":-1.55,"s":"SUPC2 C-EF + BAPTA"},{"x":0.0944,"y":-1.12,"s":"SUPC2 C-EF + BAPTA"},{"x":0.1,"y":-0.81,"s":"SUPC2 C-EF + BAPTA"},{"x":0.1056,"y":-0.61,"s":"SUPC2 C-EF + BAPTA"},{"x":0.111,"y":-0.43,"s":"SUPC2 C-EF + BAPTA"},{"x":0.1166,"y":-0.31,"s":"SUPC2 C-EF + BAPTA"},{"x":0.122,"y":-0.24,"s":"SUPC2 C-EF + BAPTA"},{"x":0.1276,"y":-0.18,"s":"SUPC2 C-EF + BAPTA"},{"x":0.133,"y":-0.11,"s":"SUPC2 C-EF + BAPTA"},{"x":0.1386,"y":-0.07,"s":"SUPC2 C-EF + BAPTA"},{"x":0.144,"y":-0.07,"s":"SUPC2 C-EF + BAPTA"},{"x":0.1496,"y":-0.04,"s":"SUPC2 C-EF + BAPTA"},{"x":0.155,"y":-0.04,"s":"SUPC2 C-EF + BAPTA"},{"x":0.1606,"y":-0.04,"s":"SUPC2 C-EF + BAPTA"},{"x":0.166,"y":-0.04,"s":"SUPC2 C-EF + BAPTA"},{"x":0.172,"y":-0.04,"s":"SUPC2 C-EF + BAPTA"},{"x":0.1776,"y":-0.04,"s":"SUPC2 C-EF + BAPTA"},{"x":0.1824,"y":-0.04,"s":"SUPC2 C-EF + BAPTA"}
 ],
 "i": [
  {"x":0.01,"y":-5.27,"s":"SUPC2 Ccore"},{"x":0.0347,"y":-3.9,"s":"SUPC2 Ccore"},{"x":0.0567,"y":-2.71,"s":"SUPC2 Ccore"},{"x":0.078,"y":-1.8,"s":"SUPC2 Ccore"},{"x":0.1,"y":-1.08,"s":"SUPC2 Ccore"},{"x":0.121,"y":-0.72,"s":"SUPC2 Ccore"},{"x":0.143,"y":-0.48,"s":"SUPC2 Ccore"},{"x":0.165,"y":-0.28,"s":"SUPC2 Ccore"},{"x":0.187,"y":-0.17,"s":"SUPC2 Ccore"},{"x":0.209,"y":-0.15,"s":"SUPC2 Ccore"},{"x":0.232,"y":-0.11,"s":"SUPC2 Ccore"},{"x":0.252,"y":-0.07,"s":"SUPC2 Ccore"},{"x":0.273,"y":-0.07,"s":"SUPC2 Ccore"},{"x":0.295,"y":-0.07,"s":"SUPC2 Ccore"},{"x":0.317,"y":-0.07,"s":"SUPC2 Ccore"},{"x":0.337,"y":-0.07,"s":"SUPC2 Ccore"},{"x":0.359,"y":-0.07,"s":"SUPC2 Ccore"},{"x":0.373,"y":0,"s":"SUPC2 Ccore"},{"x":0.393,"y":-0.07,"s":"SUPC2 Ccore"},{"x":0.415,"y":-0.07,"s":"SUPC2 Ccore"},{"x":0.433,"y":-0.07,"s":"SUPC2 Ccore"},{"x":0.452,"y":-0.07,"s":"SUPC2 Ccore"},{"x":0.47,"y":0,"s":"SUPC2 Ccore"},{"x":0.49,"y":-0.07,"s":"SUPC2 Ccore"},{"x":0.507,"y":0,"s":"SUPC2 Ccore"},{"x":0.527,"y":-0.07,"s":"SUPC2 Ccore"},{"x":0.545,"y":-0.07,"s":"SUPC2 Ccore"},{"x":0.563,"y":0,"s":"SUPC2 Ccore"},{"x":0.581,"y":-0.07,"s":"SUPC2 Ccore"},{"x":0.6,"y":-0.07,"s":"SUPC2 Ccore"},
  {"x":0.01,"y":-11.7,"s":"SUPC2 Ccore + EDTA"},{"x":0.0347,"y":-11.82,"s":"SUPC2 Ccore + EDTA"},{"x":0.0567,"y":-12.0,"s":"SUPC2 Ccore + EDTA"},{"x":0.078,"y":-11.93,"s":"SUPC2 Ccore + EDTA"},{"x":0.101,"y":-11.78,"s":"SUPC2 Ccore + EDTA"},{"x":0.122,"y":-11.17,"s":"SUPC2 Ccore + EDTA"},{"x":0.145,"y":-9.61,"s":"SUPC2 Ccore + EDTA"},{"x":0.167,"y":-7.98,"s":"SUPC2 Ccore + EDTA"},{"x":0.189,"y":-6.62,"s":"SUPC2 Ccore + EDTA"},{"x":0.21,"y":-5.05,"s":"SUPC2 Ccore + EDTA"},{"x":0.232,"y":-3.58,"s":"SUPC2 Ccore + EDTA"},{"x":0.252,"y":-2.56,"s":"SUPC2 Ccore + EDTA"},{"x":0.273,"y":-1.52,"s":"SUPC2 Ccore + EDTA"},{"x":0.295,"y":-0.93,"s":"SUPC2 Ccore + EDTA"},{"x":0.317,"y":-0.61,"s":"SUPC2 Ccore + EDTA"},{"x":0.337,"y":-0.28,"s":"SUPC2 Ccore + EDTA"},{"x":0.359,"y":-0.22,"s":"SUPC2 Ccore + EDTA"},{"x":0.373,"y":-0.11,"s":"SUPC2 Ccore + EDTA"},{"x":0.393,"y":-0.11,"s":"SUPC2 Ccore + EDTA"},{"x":0.415,"y":-0.07,"s":"SUPC2 Ccore + EDTA"},{"x":0.433,"y":-0.07,"s":"SUPC2 Ccore + EDTA"},{"x":0.452,"y":-0.07,"s":"SUPC2 Ccore + EDTA"},{"x":0.47,"y":-0.07,"s":"SUPC2 Ccore + EDTA"},{"x":0.49,"y":-0.04,"s":"SUPC2 Ccore + EDTA"},{"x":0.507,"y":-0.04,"s":"SUPC2 Ccore + EDTA"},{"x":0.527,"y":-0.04,"s":"SUPC2 Ccore + EDTA"},{"x":0.545,"y":-0.04,"s":"SUPC2 Ccore + EDTA"},{"x":0.563,"y":-0.04,"s":"SUPC2 Ccore + EDTA"},{"x":0.581,"y":-0.04,"s":"SUPC2 Ccore + EDTA"},{"x":0.6,"y":0,"s":"SUPC2 Ccore + EDTA"}
 ]
}
}
